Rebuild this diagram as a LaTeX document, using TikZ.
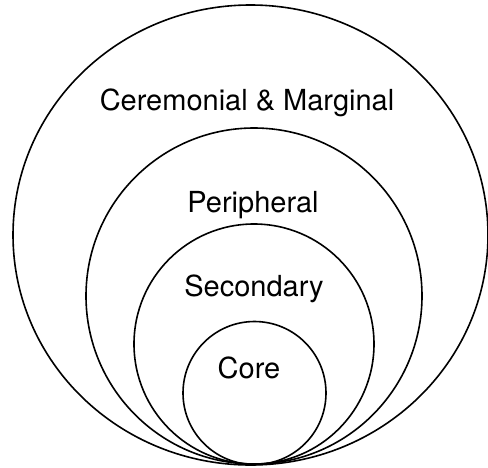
\documentclass[tikz,border=0pt]{standalone}
\usepackage{fontspec}
\setmainfont{TeX Gyre Heros}
\usepackage{tikz}
\usetikzlibrary{positioning}

\begin{document}
\begin{tikzpicture}[x=0.5pt, y=-0.5pt,
  ring/.style={draw, line width=0.8pt},
  lbl/.style={font=\fontsize{14.5}{17}\selectfont, anchor=base, inner sep=0pt}
]
  \useasboundingbox (0,0) rectangle (488,467);

  % Rings, all touching at the bottom
  \draw[ring] (250.5,235) ellipse [x radius=237.5, y radius=230];
  \draw[ring] (254,296) circle [radius=168];
  \draw[ring] (254,344) circle [radius=120];
  \draw[ring] (254.5,393) circle [radius=71.5];

  % Labels
  \node[lbl] (cm)   at (247,110) {Ceremonial \& Marginal};
  \node[lbl] (peri) at (253,212) {Peripheral};
  \node[lbl] (sec)  at (254,296) {Secondary};
  \node[lbl] (core) at (249,378) {Core};
\end{tikzpicture}
\end{document}
